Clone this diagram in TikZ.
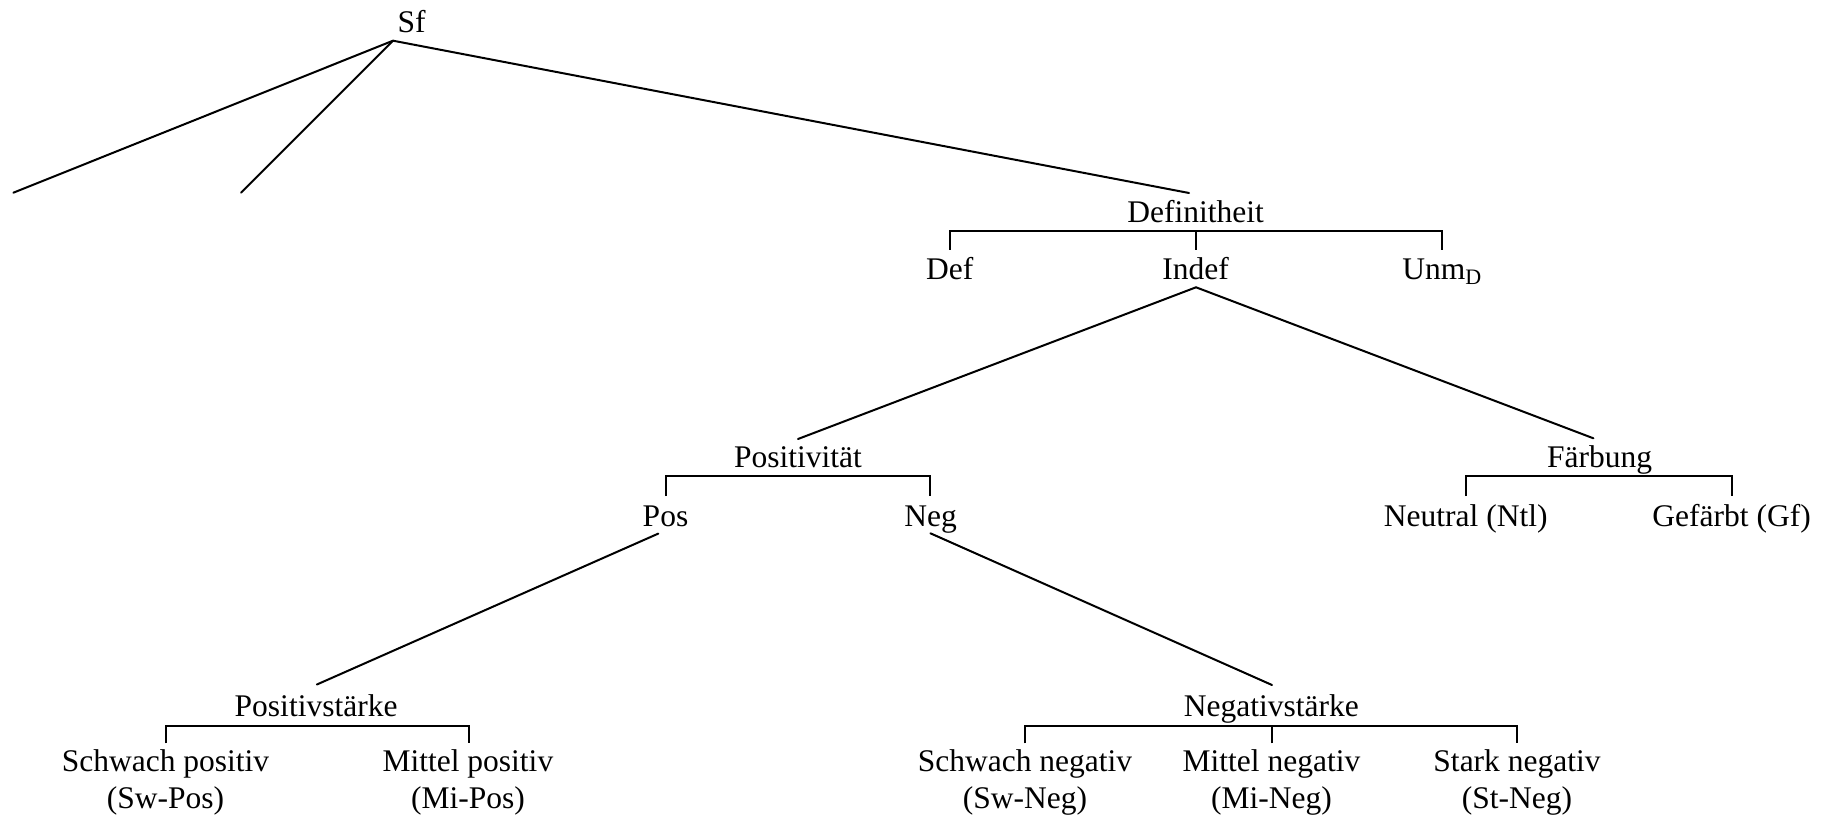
\documentclass[tikz,border=0pt]{standalone}
\usepackage{fontspec}
\setmainfont{Liberation Serif}
\begin{document}
\begin{tikzpicture}[x=1pt,y=-1pt,
  lbl/.style={anchor=base,inner sep=0pt,font=\fontsize{31.5}{36.6}\selectfont,align=center},
  conn/.style={line width=2pt,line cap=round},
  brk/.style={line width=2pt}]
\path[use as bounding box] (0,0) rectangle (1827,818);
% root
\node[lbl] (sf) at (411.5,33) {Sf};
\coordinate (sfb) at (393,40.7);
\coordinate (l1) at (13.4,192.7);
\coordinate (l2) at (241,192.7);
% Definitheit
\node[lbl] (defin) at (1195.5,222.7) {Definitheit};
\coordinate (defint) at (1189,193);
\node[lbl] (def) at (949.8,279) {Def};
\node[lbl] (indef) at (1195.5,279) {Indef};
\node[lbl] (unm) at (1442,279) {Unm\textsubscript{D}};
\coordinate (defbar) at (1196,230.7);
\coordinate (deft) at (949.8,250);
\coordinate (indeft) at (1196,250);
\coordinate (unmt) at (1441.8,250);
\coordinate (indefb) at (1196,287.3);
% Positivitaet
\node[lbl] (posit) at (798,467.7) {Positivität};
\coordinate (positt) at (798,439);
\coordinate (positbar) at (798,476);
\node[lbl] (pos) at (665.5,526) {Pos};
\node[lbl] (neg) at (930.5,526) {Neg};
\coordinate (post) at (665.5,496);
\coordinate (negt) at (930.4,496);
\coordinate (posb) at (658.3,533.6);
\coordinate (negb) at (930.4,533.3);
% Faerbung
\node[lbl] (faerb) at (1599.6,467.7) {Färbung};
\coordinate (faerbt) at (1593.4,438.3);
\node[lbl] (ntl) at (1465.7,526) {Neutral (Ntl)};
\node[lbl] (gf) at (1731.6,526) {Gefärbt (Gf)};
\coordinate (ntlt) at (1466.4,496);
\coordinate (gft) at (1731.6,496);
\coordinate (faerbbar) at (1599,476);
% Positivstaerke
\node[lbl] (pst) at (316.1,716) {Positivstärke};
\coordinate (pstt) at (316.9,684.5);
\coordinate (pstbar) at (316,725.7);
\node[lbl] (swpos) at (165.5,808.3) {Schwach positiv\\(Sw-Pos)};
\node[lbl] (mipos) at (467.9,808.3) {Mittel positiv\\(Mi-Pos)};
\coordinate (swpost) at (165.7,743.3);
\coordinate (mipost) at (468.8,743.3);
% Negativstaerke
\node[lbl] (nst) at (1271.3,716) {Negativstärke};
\coordinate (nstt) at (1272,685);
\coordinate (nstbar) at (1271.5,725.7);
\node[lbl] (swneg) at (1025,808.3) {Schwach negativ\\(Sw-Neg)};
\node[lbl] (mineg) at (1271.5,808.3) {Mittel negativ\\(Mi-Neg)};
\node[lbl] (stneg) at (1517,808.3) {Stark negativ\\(St-Neg)};
\coordinate (swnegt) at (1025.1,743.3);
\coordinate (minegt) at (1271.5,743.3);
\coordinate (stnegt) at (1517,743.3);
% connectors
\draw[conn] (sfb) -- (l1);
\draw[conn] (sfb) -- (l2);
\draw[conn] (sfb) -- (defint);
\draw[brk] (deft) |- (unmt |- defbar) -- (unmt);
\draw[brk] (indeft) -- (defbar);
\draw[conn] (indefb) -- (positt);
\draw[conn] (indefb) -- (faerbt);
\draw[brk] (post) |- (negt |- positbar) -- (negt);
\draw[brk] (ntlt) |- (gft |- faerbbar) -- (gft);
\draw[conn] (posb) -- (pstt);
\draw[conn] (negb) -- (nstt);
\draw[brk] (swpost) |- (mipost |- pstbar) -- (mipost);
\draw[brk] (swnegt) |- (stnegt |- nstbar) -- (stnegt);
\draw[brk] (minegt) -- (nstbar);
\end{tikzpicture}
\end{document}
